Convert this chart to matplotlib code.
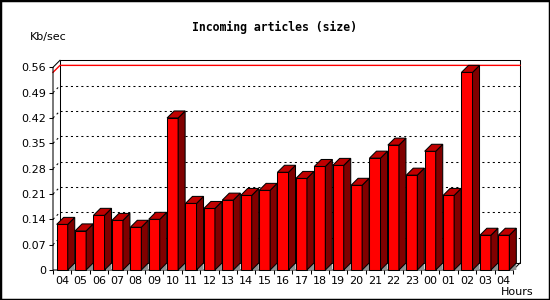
#!/usr/bin/env python
# 3D style bar chart: incoming articles per hour
import matplotlib
matplotlib.use('Agg')
import matplotlib.pyplot as plt
from matplotlib.patches import Polygon, Rectangle
import numpy as np

# data
hours  = ['04', '05', '06', '07', '08', '09', '10', '11', '12', '13',
          '14', '15', '16', '17', '18', '19', '20', '21', '22', '23',
          '00', '01', '02', '03', '04']
values = [0.126, 0.108, 0.151, 0.137, 0.118, 0.140, 0.420, 0.184, 0.170,
          0.193, 0.206, 0.220, 0.270, 0.253, 0.286, 0.289, 0.234, 0.309,
          0.345, 0.262, 0.328, 0.206, 0.546, 0.096, 0.096]
yticks = [0, 0.07, 0.14, 0.21, 0.28, 0.35, 0.42, 0.49, 0.56]
ytlabels = ['0', '0.07', '0.14', '0.21', '0.28', '0.35', '0.42', '0.49', '0.56']

W, H = 550, 300
fig = plt.figure(figsize=(W/100., H/100.), dpi=100)

# front plane of the plot (pixels)
left, right, bottom, top = 53., 513., 270., 67.3
ax = fig.add_axes([left/W, (H-bottom)/H, (right-left)/W, (bottom-top)/H])
n = len(values)
ymax = 0.56
ax.set_xlim(-0.5, n-0.5)
ax.set_ylim(0, ymax)
for s in ax.spines.values():
    s.set_visible(False)

# 7 pixel depth, expressed in data units
depth = 7.
dx = depth / ((right-left)/n)
dy = depth / ((bottom-top)/ymax)
x0, x1 = -0.5, n-0.5

lw = 0.75
# back wall
ax.add_patch(Rectangle((x0+dx, dy), x1-x0, ymax, fill=False, ec='black',
                       lw=lw, clip_on=False, zorder=1))
# dotted grid on back wall plus its slant to the front axis
for t in yticks[1:-1]:
    ax.plot([x0+dx, x1+dx], [t+dy, t+dy], color='black', lw=lw,
            ls=(0, (2, 3)), clip_on=False, zorder=1)
    ax.plot([x0, x0+dx], [t, t+dy], color='black', lw=lw,
            ls=(0, (2, 3)), clip_on=False, zorder=1)
# red line at the peak value
vmax = max(values)
ax.plot([x0, x0+dx, x1+dx], [vmax, vmax+dy, vmax+dy], color='#ff0000',
        lw=1.0, clip_on=False, zorder=1.5)

# front axis lines and slants
ax.plot([x0+dx, x0, x0, x1, x1+dx], [ymax+dy, ymax, 0, 0, dy],
        color='black', lw=lw, clip_on=False, zorder=2)

# bars
bw = 0.6
for i, v in enumerate(values):
    xl = i - bw/2.
    xr = i + bw/2.
    ax.add_patch(Polygon([[xr, 0], [xr+dx, dy], [xr+dx, 0]], closed=True,
                         fc='#909090', ec='none', clip_on=False, zorder=3))
    ax.add_patch(Rectangle((xl, 0), bw, v, fc='#ff0000', ec='black',
                           lw=lw, clip_on=False, zorder=4))
    ax.add_patch(Polygon([[xr, 0], [xr+dx, dy], [xr+dx, v+dy], [xr, v]],
                         closed=True, fc='#800000', ec='black', lw=lw,
                         clip_on=False, zorder=4))
    ax.add_patch(Polygon([[xl, v], [xl+dx, v+dy], [xr+dx, v+dy], [xr, v]],
                         closed=True, fc='#c00000', ec='black', lw=lw,
                         clip_on=False, zorder=4))

font = 'DejaVu Sans'
ax.set_yticks(yticks)
ax.set_yticklabels(ytlabels, fontname=font, fontsize=8)
ax.set_xticks(np.arange(n))
ax.set_xticklabels(hours, fontname=font, fontsize=8)
ax.set_xticks(np.arange(n+1) - 0.5, minor=True)
ax.tick_params(axis='y', direction='out', length=3, width=lw, pad=2)
ax.tick_params(axis='x', which='major', length=0, pad=4)
ax.tick_params(axis='x', which='minor', direction='out', length=3, width=lw)

fig.text(274./W, 1-27./H, 'Incoming articles (size)', ha='center',
         va='center', fontname='DejaVu Sans Mono', fontweight='bold',
         fontsize=8.3)
fig.text(30./W, 1-37./H, 'Kb/sec', ha='left', va='center',
         fontname=font, fontsize=8)
fig.text(533./W, 1-292./H, 'Hours', ha='right', va='center',
         fontname=font, fontsize=8)

# image frame
fig.patches.append(Rectangle((0, 0), 1, 1, transform=fig.transFigure,
                             fill=False, ec='black', lw=2.5))

fig.savefig('out.png', dpi=100)
